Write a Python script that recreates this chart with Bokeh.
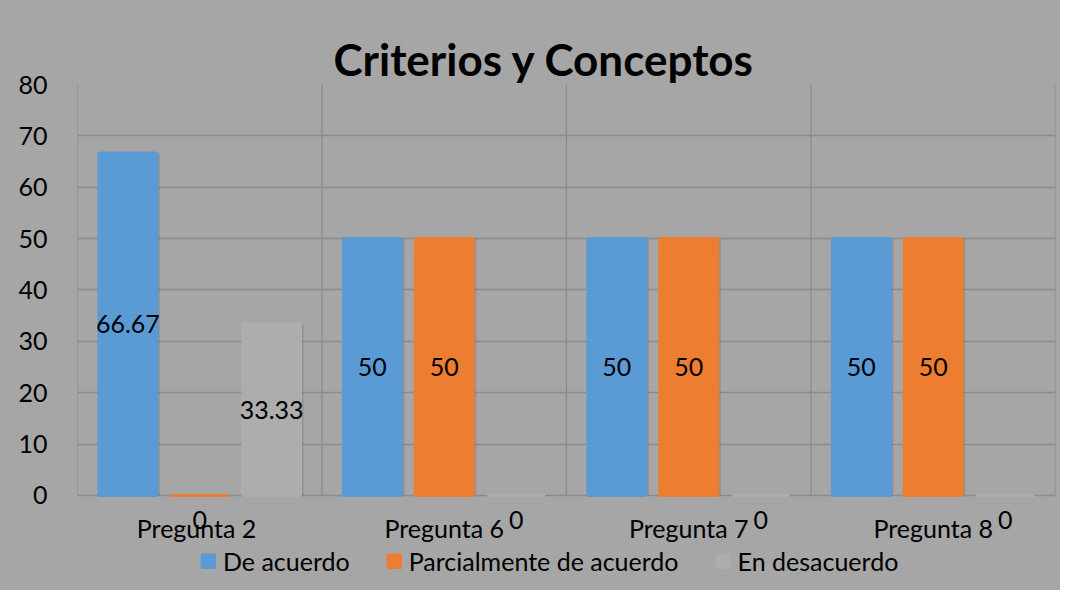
from bokeh.plotting import figure
from bokeh.models import (Range1d, LabelSet, ColumnDataSource, Title,
                          Legend, LegendItem, FixedTicker)
from bokeh.core.properties import value
from bokeh.embed import file_html
from bokeh.resources import INLINE

# ---- data ----
categories = ["Pregunta  2", "Pregunta 6", "Pregunta 7", "Pregunta 8"]
de_acuerdo = [66.67, 50, 50, 50]
parcialmente = [0, 50, 50, 50]
en_desacuerdo = [33.33, 0, 0, 0]
series_names = ["De acuerdo", "Parcialmente de acuerdo", "En desacuerdo"]
y_ticks = [0, 10, 20, 30, 40, 50, 60, 70, 80]
title_text = "Criterios y Conceptos"

# ---- style ----
FONT = "Lato"
FS = "25px"
BG = "#a6a6a6"
GRID = "#8b8b8b"
colors = ["#5b9bd5", "#ed7d31", "#adadad"]
offsets = [-0.294, 0.0, 0.294]
bar_w = 0.237

n = len(categories)
centers = [i + 0.5 for i in range(n)]
y_max = y_ticks[-1]

# frame reaches down to the bottom so that the category labels,
# zero labels and legend (all real text) can live inside it
p = figure(x_range=Range1d(0, n), y_range=Range1d(-18.5, y_max),
           width=1060, height=590, output_backend="svg", toolbar_location=None,
           background_fill_color=BG, border_fill_color=None,
           min_border_left=77, min_border_right=5, min_border_top=84,
           min_border_bottom=0)
p.styles = {"background-color": BG}

p.outline_line_color = None
p.xaxis.visible = False
p.xgrid.visible = False
p.ygrid.grid_line_color = GRID
p.ygrid.grid_line_width = 1.3
p.ygrid.ticker = FixedTicker(ticks=y_ticks)
p.yaxis.ticker = FixedTicker(ticks=y_ticks)
p.yaxis.axis_line_color = None
p.yaxis.major_tick_line_color = None
p.yaxis.minor_tick_line_color = None
p.yaxis.major_label_text_font = FONT
p.yaxis.major_label_text_font_size = FS
p.yaxis.major_label_text_color = "#000000"
p.yaxis.major_label_standoff = 24

# plot-area vertical lines (borders and category separators)
bounds = list(range(n + 1))
p.segment(x0=bounds, y0=[y_ticks[0]] * len(bounds), x1=bounds, y1=[y_max] * len(bounds),
          line_color=GRID, line_width=1.3)

all_series = [de_acuerdo, parcialmente, en_desacuerdo]
renderers = []
zx, zt = [], []
for vals, col, off in zip(all_series, colors, offsets):
    xs = [c + off for c in centers]
    src = ColumnDataSource(dict(x=xs, v=vals))
    # soft shadow
    p.vbar(x=[x + 0.012 for x in xs], top=vals, width=bar_w,
           fill_color="#555555", fill_alpha=0.25, line_color=None)
    r = p.vbar(x="x", top="v", width=bar_w, source=src,
               fill_color=col, line_color=col, line_width=3)
    renderers.append(r)

    # value labels at bar middle (non-zero bars)
    lx = [x for x, v in zip(xs, vals) if v > 0]
    ly = [v / 2 for v in vals if v > 0]
    lt = [("%g" % v) for v in vals if v > 0]
    lsrc = ColumnDataSource(dict(x=lx, y=ly, t=lt))
    p.add_layout(LabelSet(x="x", y="y", text="t", source=lsrc, text_align="center",
                          text_baseline="middle", text_font=value(FONT),
                          text_font_size=value(FS), text_color="#000000"))
    for x, v in zip(xs, vals):
        if v == 0:
            zx.append(x)
            zt.append("%g" % v)

# zero-value labels, just under the floor
zsrc = ColumnDataSource(dict(x=zx, y=[0] * len(zx), t=zt))
p.add_layout(LabelSet(x="x", y="y", text="t", source=zsrc, y_offset=-25,
                      text_align="center", text_baseline="middle",
                      text_font=value(FONT), text_font_size=value(FS),
                      text_color="#000000"))

# category labels
csrc = ColumnDataSource(dict(x=centers, y=[0] * n, t=categories))
p.add_layout(LabelSet(x="x", y="y", text="t", source=csrc, y_offset=-33,
                      text_align="center", text_baseline="middle",
                      text_font=value(FONT), text_font_size=value(FS),
                      text_color="#000000"))

legend = Legend(items=[LegendItem(label=nm, renderers=[r]) for nm, r in zip(series_names, renderers)],
                orientation="horizontal", location=(123, 14),
                glyph_width=16, glyph_height=16, label_standoff=7, spacing=36,
                padding=0, margin=0, border_line_color=None, background_fill_alpha=0,
                label_text_font=FONT, label_text_font_size=FS,
                label_text_color="#000000")
p.add_layout(legend, "center")

p.add_layout(Title(text=title_text, align="left", offset=256, standoff=0,
                   vertical_align="bottom", text_font=FONT, text_font_style="bold",
                   text_font_size="44px", text_color="#000000"), "above")

open("out.html", "w").write(file_html(p, INLINE))
